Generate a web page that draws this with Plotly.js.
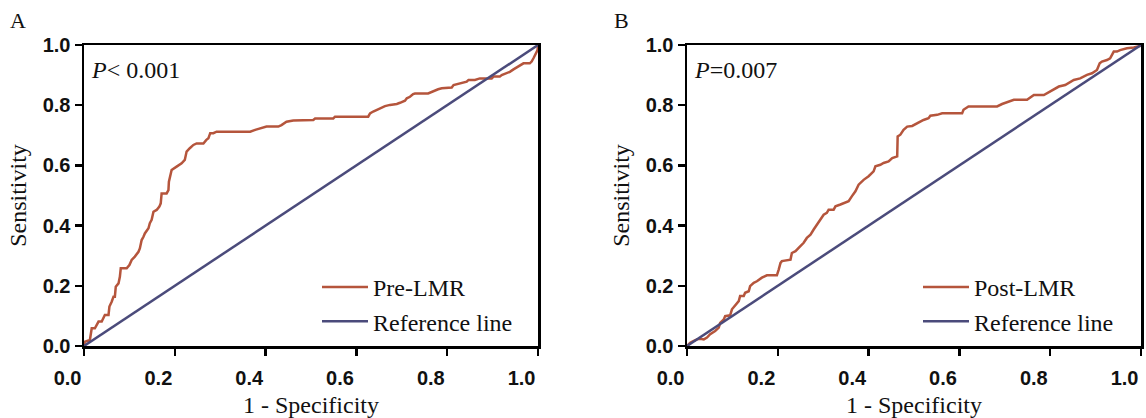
<!DOCTYPE html>
<html>
<head>
<meta charset="utf-8">
<script src="https://cdn.plot.ly/plotly-3.0.1.min.js"></script>
<style>html,body{margin:0;padding:0;background:#fff;}#chart{width:1146px;height:418px;}</style>
</head>
<body>
<div id="chart"></div>
<script>
// Panel A: Pre-LMR ROC curve
const preX = [0,0.002,0.013,0.017,0.024,0.028,0.032,0.039,0.043,0.046,0.054,0.056,0.061,0.065,0.068,0.070,0.076,0.079,0.081,0.094,0.100,0.105,0.112,0.120,0.123,0.127,0.131,0.134,0.142,0.145,0.149,0.153,0.160,0.166,0.169,0.171,0.182,0.186,0.187,0.189,0.193,0.204,0.215,0.222,0.226,0.233,0.241,0.248,0.263,0.269,0.274,0.278,0.285,0.292,0.366,0.377,0.391,0.402,0.428,0.435,0.446,0.461,0.505,0.509,0.549,0.553,0.626,0.630,0.637,0.645,0.652,0.663,0.674,0.689,0.696,0.707,0.711,0.718,0.725,0.729,0.758,0.766,0.773,0.780,0.788,0.810,0.814,0.828,0.843,0.847,0.861,0.872,0.898,0.902,0.916,0.920,0.931,0.938,0.946,0.953,0.960,0.968,0.982,0.986,0.990,0.993,0.999,1.0];
const preY = [0,0.014,0.020,0.059,0.059,0.070,0.081,0.081,0.097,0.103,0.103,0.131,0.147,0.164,0.164,0.197,0.208,0.230,0.258,0.258,0.269,0.286,0.297,0.313,0.324,0.352,0.363,0.374,0.391,0.408,0.419,0.446,0.452,0.463,0.474,0.507,0.507,0.518,0.546,0.563,0.585,0.596,0.607,0.618,0.646,0.657,0.668,0.673,0.673,0.684,0.690,0.707,0.707,0.712,0.712,0.718,0.725,0.729,0.729,0.734,0.745,0.749,0.751,0.756,0.756,0.762,0.762,0.773,0.779,0.784,0.790,0.797,0.801,0.804,0.808,0.815,0.823,0.828,0.837,0.839,0.839,0.845,0.850,0.853,0.856,0.859,0.867,0.873,0.878,0.884,0.884,0.889,0.889,0.895,0.895,0.900,0.906,0.911,0.919,0.926,0.934,0.939,0.939,0.945,0.956,0.967,0.983,1.0];

// Panel B: Post-LMR ROC curve
const postX = [0,0.007,0.015,0.022,0.029,0.037,0.044,0.051,0.062,0.070,0.073,0.081,0.084,0.095,0.099,0.106,0.114,0.117,0.125,0.128,0.136,0.139,0.147,0.154,0.165,0.176,0.198,0.202,0.206,0.209,0.228,0.231,0.239,0.246,0.257,0.264,0.272,0.279,0.286,0.294,0.301,0.308,0.312,0.323,0.327,0.338,0.356,0.363,0.371,0.378,0.389,0.400,0.411,0.415,0.426,0.433,0.444,0.452,0.463,0.464,0.470,0.477,0.485,0.496,0.507,0.521,0.532,0.536,0.551,0.562,0.606,0.609,0.620,0.683,0.694,0.705,0.720,0.749,0.764,0.786,0.808,0.819,0.833,0.841,0.852,0.866,0.881,0.892,0.903,0.909,0.914,0.925,0.932,0.940,0.947,0.954,0.969,0.984,0.999,1.0];
const postY = [0,0.011,0.017,0.022,0.024,0.022,0.028,0.039,0.050,0.061,0.077,0.088,0.099,0.102,0.122,0.133,0.149,0.166,0.166,0.177,0.182,0.199,0.210,0.215,0.227,0.235,0.235,0.254,0.276,0.282,0.287,0.309,0.315,0.326,0.343,0.359,0.370,0.387,0.403,0.423,0.436,0.442,0.453,0.453,0.464,0.470,0.481,0.497,0.514,0.536,0.552,0.564,0.580,0.597,0.602,0.608,0.613,0.624,0.630,0.696,0.702,0.718,0.729,0.731,0.740,0.751,0.757,0.765,0.768,0.773,0.773,0.785,0.796,0.796,0.804,0.809,0.818,0.818,0.834,0.834,0.851,0.862,0.867,0.873,0.884,0.889,0.901,0.906,0.917,0.939,0.945,0.950,0.956,0.978,0.978,0.983,0.989,0.992,0.997,1.0];

// Reference (chance) line
const refX = [0, 1];
const refY = [0, 1];

const tickVals = [0, 0.2, 0.4, 0.6, 0.8, 1.0];
const tickText = ["0.0", "0.2", "0.4", "0.6", "0.8", "1.0"];

const seriesNames = ["Pre-LMR", "Post-LMR", "Reference line"];
const panelLabels = ["A", "B"];
const pLabels = ["<i>P</i>< 0.001", "<i>P</i>=0.007"];
const xTitle = "1 - Specificity";
const yTitle = "Sensitivity";

const rocColor = "#B5553C";
const refColor = "#4B4B7B";
const serif = '"Liberation Serif", "Times New Roman", Times, serif';
const sans = '"Liberation Sans", Arial, Helvetica, sans-serif';

const traces = [
  {x: preX, y: preY, xaxis: "x", yaxis: "y", mode: "lines", name: seriesNames[0], legendgroup: "a1",
   line: {color: rocColor, width: 2.5}, legend: "legend"},
  {x: refX, y: refY, xaxis: "x", yaxis: "y", mode: "lines", name: seriesNames[2], legendgroup: "a2",
   line: {color: refColor, width: 2.5}, legend: "legend"},
  {x: postX, y: postY, xaxis: "x2", yaxis: "y2", mode: "lines", name: seriesNames[1], legendgroup: "b1",
   line: {color: rocColor, width: 2.5}, legend: "legend2"},
  {x: refX, y: refY, xaxis: "x2", yaxis: "y2", mode: "lines", name: seriesNames[2], legendgroup: "b2",
   line: {color: refColor, width: 2.5}, legend: "legend2"}
];

const W = 1146, H = 418;
const yDom = [(H - 346) / H, (H - 45) / H];

function xAxis(dom) {
  return {
    domain: dom, range: [0, 1], tickvals: tickVals, ticktext: tickText,
    showgrid: false, zeroline: false, showline: true, linecolor: "#000", linewidth: 2.5, mirror: true,
    ticks: "outside", ticklen: 7, tickwidth: 2.5, tickcolor: "#000",
    ticklabelposition: "outside left", ticklabeloverflow: "allow", ticklabelstandoff: 12,
    tickfont: {family: sans, size: 20, color: "#111", weight: "bold"},
    title: {text: xTitle, font: {family: serif, size: 24, color: "#111"}, standoff: 10},
    fixedrange: true
  };
}
function yAxis(anchor) {
  return {
    domain: yDom, range: [0, 1], tickvals: tickVals, ticktext: tickText, anchor: anchor,
    showgrid: false, zeroline: false, showline: true, linecolor: "#000", linewidth: 2.5, mirror: true,
    ticks: "outside", ticklen: 7, tickwidth: 2.5, tickcolor: "#000",
    tickfont: {family: sans, size: 20, color: "#111", weight: "bold"},
    title: {text: yTitle, font: {family: serif, size: 24, color: "#111"}, standoff: 10},
    fixedrange: true
  };
}

function legendCfg(xpx) {
  return {
    x: xpx / W, xanchor: "left", y: (H - 265) / H, yanchor: "top",
    bgcolor: "rgba(255,255,255,0)", borderwidth: 0,
    font: {family: serif, size: 24, color: "#111"},
    traceorder: "grouped", tracegroupgap: 0, itemwidth: 46
  };
}

const layout = {
  width: W, height: H,
  margin: {l: 0, r: 0, t: 0, b: 0},
  paper_bgcolor: "#fff", plot_bgcolor: "#fff",
  showlegend: true,
  xaxis: xAxis([84 / W, 538 / W]),
  yaxis: yAxis("x"),
  xaxis2: xAxis([687 / W, 1141 / W]),
  yaxis2: yAxis("x2"),
  legend: legendCfg(317),
  legend2: legendCfg(918),
  annotations: [
    {text: panelLabels[0], xref: "paper", yref: "paper", x: 8 / W, y: (H - 20) / H, xanchor: "left", yanchor: "middle",
     showarrow: false, font: {family: serif, size: 22, color: "#111"}},
    {text: panelLabels[1], xref: "paper", yref: "paper", x: 612 / W, y: (H - 20) / H, xanchor: "left", yanchor: "middle",
     showarrow: false, font: {family: serif, size: 22, color: "#111"}},
    {text: pLabels[0], xref: "x", yref: "y", x: 0.012, y: 0.918, xanchor: "left", yanchor: "middle",
     showarrow: false, font: {family: serif, size: 24, color: "#111"}},
    {text: pLabels[1], xref: "x2", yref: "y2", x: 0.012, y: 0.918, xanchor: "left", yanchor: "middle",
     showarrow: false, font: {family: serif, size: 24, color: "#111"}}
  ]
};

Plotly.newPlot("chart", traces, layout, {displayModeBar: false, staticPlot: true});
</script>
</body>
</html>
